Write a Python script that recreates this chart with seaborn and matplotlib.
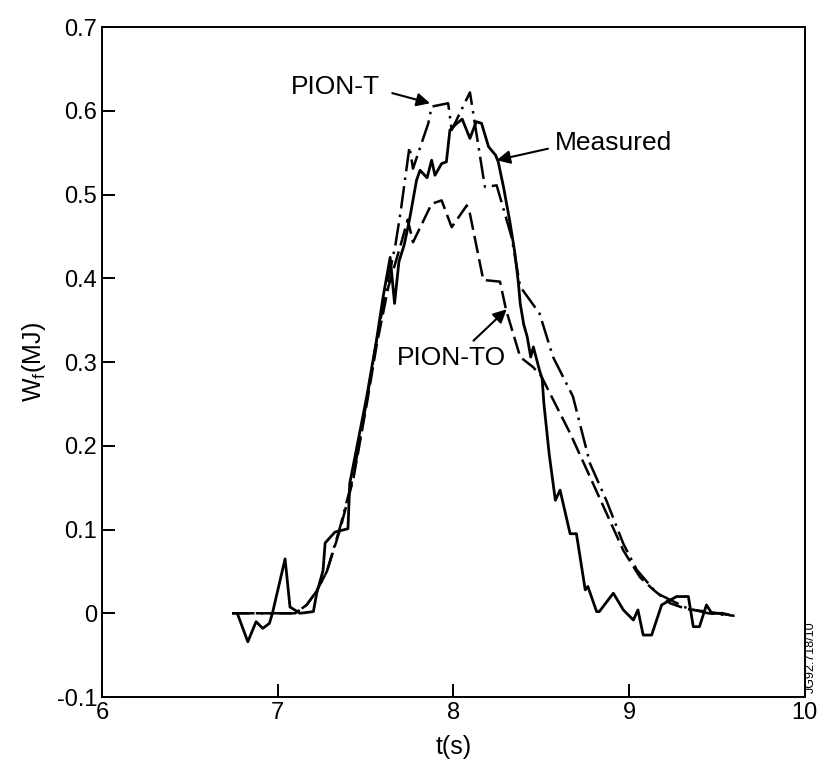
import matplotlib
matplotlib.use('Agg')
import matplotlib.pyplot as plt
import seaborn as sns

# Measured fast-ion energy (solid, noisy)
t_meas = [6.77, 6.83, 6.877, 6.915, 6.953, 6.97, 7.042, 7.07, 7.127, 7.203, 7.222,
          7.258, 7.27, 7.326, 7.40, 7.41, 7.506, 7.563, 7.60, 7.64, 7.665, 7.69,
          7.72, 7.75, 7.79, 7.81, 7.85, 7.876, 7.895, 7.933, 7.96, 7.98, 8.02,
          8.05, 8.094, 8.13, 8.16, 8.20, 8.24, 8.255, 8.285, 8.32, 8.35, 8.37,
          8.38, 8.40, 8.42, 8.44, 8.455, 8.49, 8.505, 8.515, 8.545, 8.58, 8.607,
          8.664, 8.70, 8.75, 8.765, 8.815, 8.83, 8.91, 8.967, 9.024, 9.05, 9.08,
          9.128, 9.185, 9.27, 9.337, 9.365, 9.40, 9.44, 9.47, 9.53, 9.57]
w_meas = [0.0, -0.034, -0.01, -0.018, -0.012, 0.0, 0.065, 0.0075, 0.0, 0.002, 0.024,
          0.051, 0.084, 0.097, 0.101, 0.155, 0.258, 0.327, 0.378, 0.425, 0.37, 0.42,
          0.44, 0.47, 0.517, 0.529, 0.52, 0.541, 0.523, 0.537, 0.539, 0.577, 0.585,
          0.59, 0.567, 0.587, 0.585, 0.557, 0.547, 0.539, 0.509, 0.469, 0.43, 0.394,
          0.37, 0.345, 0.33, 0.306, 0.318, 0.29, 0.28, 0.25, 0.19, 0.135, 0.147,
          0.095, 0.095, 0.028, 0.032, 0.002, 0.002, 0.024, 0.004, -0.008, 0.004, -0.026,
          -0.026, 0.01, 0.02, 0.02, -0.016, -0.016, 0.01, 0.0, 0.0, -0.002]

# PION-T simulation (dash-dot)
t_piont = [6.74, 7.10, 7.165, 7.22, 7.28, 7.355, 7.43, 7.507, 7.563, 7.63, 7.67,
           7.70, 7.75, 7.77, 7.857, 7.876, 7.97, 7.99, 8.094, 8.17, 8.18, 8.246,
           8.33, 8.38, 8.49, 8.567, 8.68, 8.777, 8.87, 8.967, 9.043, 9.157, 9.33,
           9.45, 9.6]
w_piont = [0.0, 0.0, 0.01, 0.026, 0.05, 0.103, 0.163, 0.254, 0.326, 0.40, 0.44,
           0.48, 0.557, 0.531, 0.585, 0.605, 0.609, 0.577, 0.622, 0.521, 0.509, 0.511,
           0.45, 0.39, 0.358, 0.306, 0.259, 0.179, 0.135, 0.083, 0.052, 0.024, 0.006,
           0.0, -0.003]

# PION-TO simulation (dashed)
t_pionto = [6.74, 7.10, 7.165, 7.22, 7.28, 7.355, 7.43, 7.507, 7.563, 7.63, 7.70,
            7.74, 7.77, 7.876, 7.933, 7.99, 8.076, 8.094, 8.17, 8.265, 8.30, 8.38,
            8.453, 8.50, 8.664, 8.777, 8.872, 8.967, 9.062, 9.138, 9.233, 9.328,
            9.44, 9.57]
w_pionto = [0.0, 0.0, 0.01, 0.026, 0.05, 0.10, 0.16, 0.25, 0.32, 0.39, 0.44,
            0.47, 0.443, 0.489, 0.493, 0.461, 0.487, 0.477, 0.398, 0.396, 0.362, 0.306,
            0.294, 0.283, 0.215, 0.163, 0.119, 0.075, 0.043, 0.028, 0.012, 0.005,
            0.002, -0.002]

x_ticks = [6, 7, 8, 9, 10]
y_ticks = [-0.1, 0, 0.1, 0.2, 0.3, 0.4, 0.5, 0.6, 0.7]
y_tick_labels = ['-0.1', '0', '0.1', '0.2', '0.3', '0.4', '0.5', '0.6', '0.7']

sns.set_style('ticks')
plt.rcParams['font.family'] = ['Liberation Sans', 'DejaVu Sans']
plt.rcParams['mathtext.default'] = 'regular'
plt.rcParams['text.color'] = 'black'
plt.rcParams['axes.labelcolor'] = 'black'
plt.rcParams['xtick.color'] = 'black'
plt.rcParams['ytick.color'] = 'black'

fig = plt.figure(figsize=(8.25, 7.75), dpi=100)
ax = fig.add_axes([0.1236, 0.1006, 0.852, 0.8645])

sns.lineplot(x=t_meas, y=w_meas, ax=ax, color='black', linewidth=2.0,
             sort=False, estimator=None)
sns.lineplot(x=t_piont, y=w_piont, ax=ax, color='black', linewidth=1.8,
             sort=False, estimator=None, linestyle=(0, (9, 2.5, 1, 2.5)))
sns.lineplot(x=t_pionto, y=w_pionto, ax=ax, color='black', linewidth=1.8,
             sort=False, estimator=None, linestyle=(0, (7, 2.5)))

ax.set_xlim(6, 10)
ax.set_ylim(-0.1, 0.7)
ax.set_xticks(x_ticks)
ax.set_yticks(y_ticks)
ax.set_yticklabels(y_tick_labels)
ax.tick_params(direction='in', length=9.5, width=1.4, labelsize=17, colors='black')
for sp in ax.spines.values():
    sp.set_linewidth(1.4)
    sp.set_color('black')

ax.set_xlabel('t(s)', fontsize=18, labelpad=8)
ax.set_ylabel('W$_f$(MJ)', fontsize=18, labelpad=6)

arrow = dict(arrowstyle='-|>', color='black', lw=1.5, mutation_scale=20)
ax.annotate('PION-T', xy=(7.867, 0.609), xytext=(7.58, 0.628), fontsize=19,
            ha='right', va='center',
            arrowprops=dict(arrow, relpos=(1, 0.4), shrinkA=7, shrinkB=0))
ax.annotate('Measured', xy=(8.246, 0.541), xytext=(8.58, 0.561), fontsize=19,
            ha='left', va='center',
            arrowprops=dict(arrow, relpos=(0, 0.35), shrinkA=3, shrinkB=0))
ax.annotate('PION-TO', xy=(8.303, 0.363), xytext=(7.99, 0.305), fontsize=19,
            ha='center', va='center',
            arrowprops=dict(arrow, relpos=(0.65, 1), shrinkA=2, shrinkB=0))

fig.text(0.983, 0.152, 'JG92.718/10', rotation=90, fontsize=9,
         ha='center', va='center')

fig.savefig('out.png', dpi=100)
